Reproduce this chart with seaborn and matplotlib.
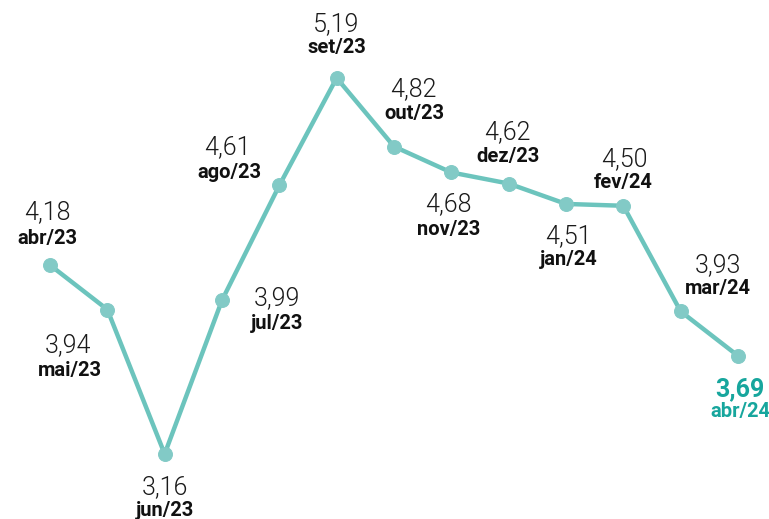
import seaborn as sns
import pandas as pd
import matplotlib.pyplot as plt

sns.set_style("white")
plt.rcParams['font.family'] = ['Roboto', 'DejaVu Sans']

months = ['abr/23', 'mai/23', 'jun/23', 'jul/23', 'ago/23', 'set/23', 'out/23',
          'nov/23', 'dez/23', 'jan/24', 'fev/24', 'mar/24', 'abr/24']
values = [4.18, 3.94, 3.16, 3.99, 4.61, 5.19, 4.82, 4.68, 4.62, 4.51, 4.50, 3.93, 3.69]

df = pd.DataFrame({'idx': range(len(months)), 'mes': months, 'valor': values})

# label offsets (pixels) of value text and month text relative to each point
val_off = [(-3, 53), (-39, -36), (0, -33), (55, 2), (-52, 38), (-1, 54), (19, 57),
           (-3, -32), (-1, 51), (2, -32), (1, 47), (37, 46), (2, -33)]
mon_off = [(-3, 27), (-37, -61), (0, -57), (55, -23), (-50, 13), (0, 30), (20, 33),
           (-3, -57), (-1, 27), (3, -56), (0, 23), (37, 23), (2, -56)]

line_color = '#6cc4bd'
marker_color = '#82cac6'
hl_color = '#17a69d'

fig = plt.figure(figsize=(7.69, 5.19), dpi=100)
ax = fig.add_axes([0, 0, 1, 1])
sns.lineplot(data=df, x='idx', y='valor', color=line_color, linewidth=3.2,
             marker='o', markersize=10, markerfacecolor=marker_color,
             markeredgecolor=marker_color, ax=ax)
ax.set_xlim(-0.872, 12.541)
ax.set_ylim(2.809, 5.611)
ax.axis('off')

n = len(months)
for i, (m, v) in enumerate(zip(months, values)):
    last = i == n - 1
    txt = f"{v:.2f}".replace('.', ',')
    ax.annotate(txt, (i, v), xytext=val_off[i], textcoords='offset pixels',
                ha='center', va='center', fontsize=18,
                fontweight='bold' if last else 300,
                color=hl_color if last else '#1a1a1a')
    ax.annotate(m, (i, v), xytext=mon_off[i], textcoords='offset pixels',
                ha='center', va='center', fontsize=14.5, fontweight='bold',
                color=hl_color if last else '#111111')

fig.savefig('out.png', dpi=100, facecolor='white')
